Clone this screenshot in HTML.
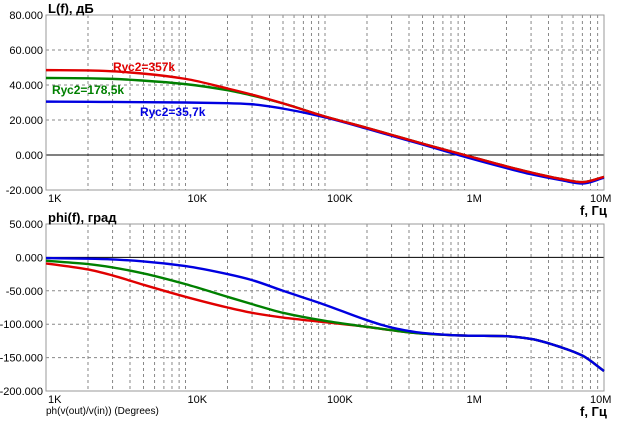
<!DOCTYPE html>
<html><head><meta charset="utf-8"><style>
body{margin:0;background:#fff;}
svg{display:block;font-family:"Liberation Sans",sans-serif;}
</style></head><body>
<svg id="c" width="618" height="422"></svg>
<script>
const freqs=[1e3,2e3,3e3,5e3,1e4,2e4,3e4,5e4,1e5,2e5,3e5,5e5,1e6,2e6,3e6,5e6,7e6,1e7];
const magRed=[48.5,48.3,47.8,46.5,43.5,38,34.5,29.5,22,15.5,11.5,6.5,0,-6.5,-10,-13.8,-15.5,-12.5];
const magGreen=[44,43.8,43.5,42.5,40.5,37,34,29.5,22,15.5,11.5,6.5,0,-6.5,-10,-13.8,-15.5,-12.5];
const magBlue=[30.5,30.4,30.3,30.2,30,29.6,29,26.5,21.5,15,11,6,-1,-7.5,-11,-14.5,-16.3,-13];
const phRed=[-9,-18,-27,-41,-59,-75,-83,-90,-97,-104,-109,-114,-117,-118,-122,-135,-147,-170];
const phGreen=[-5,-10,-15,-24,-40,-59,-70,-83,-95,-104,-109,-114,-117,-118,-122,-135,-147,-170];
const phBlue=[-1,-2,-3,-6,-13,-25,-34,-50,-71,-94,-105,-113,-117,-118,-122,-135,-147,-170];
const magTicks=[80,60,40,20,0,-20];
const phTicks=[50,0,-50,-100,-150,-200];
const xTickLabels=["1K","10K","100K","1M","10M"];
const NS="http://www.w3.org/2000/svg";
const svg=document.getElementById('c');
const X0=46,X1=604;
function xs(f){return X0+(Math.log10(f)-3)/4*(X1-X0);}
function el(t,a,p){const e=document.createElementNS(NS,t);for(const k in a)e.setAttribute(k,a[k]);(p||svg).appendChild(e);return e;}
function path(pts){
  const n=pts.length,d=[],m=[];
  for(let i=0;i<n-1;i++)d.push((pts[i+1][1]-pts[i][1])/(pts[i+1][0]-pts[i][0]));
  m[0]=d[0];m[n-1]=d[n-2];
  for(let i=1;i<n-1;i++){if(d[i-1]*d[i]<=0)m[i]=0;else{const h0=pts[i][0]-pts[i-1][0],h1=pts[i+1][0]-pts[i][0];const w1=2*h1+h0,w2=h1+2*h0;m[i]=(w1+w2)/(w1/d[i-1]+w2/d[i]);}}
  let s="M"+pts[0][0]+","+pts[0][1];
  for(let i=0;i<n-1;i++){const h=(pts[i+1][0]-pts[i][0])/3;s+=" C"+(pts[i][0]+h)+","+(pts[i][1]+m[i]*h)+" "+(pts[i+1][0]-h)+","+(pts[i+1][1]-m[i+1]*h)+" "+pts[i+1][0]+","+pts[i+1][1];}
  return s;}
function panel(name,top,bot,vmax,vmin,ticks,series,title){
  const ys=v=>top+(vmax-v)/(vmax-vmin)*(bot-top);
  const g=el('g',{});
  
  
  for(let d=0;d<4;d++)for(let m=2;m<=9;m++){const x=xs(Math.pow(10,3+d)*m);const l=el('line',{x1:x,x2:x,y1:top,y2:bot,stroke:'#888','stroke-dasharray':'3,3','stroke-width':1},g);}
  for(let d=1;d<4;d++){const x=xs(Math.pow(10,3+d));el('line',{x1:x,x2:x,y1:top,y2:bot,stroke:'#888','stroke-dasharray':'3,3'},g);}
  ticks.forEach(t=>{const y=ys(t);const l=el('line',{x1:X0,x2:X1,y1:y,y2:y,stroke:t===0?'#000':'#888','stroke-dasharray':t===0?'':'3,3'},g);
    const tx=el('text',{x:X0-3,y:y+4,'text-anchor':'end','font-size':11,fill:'#000'},g);tx.textContent=t.toFixed(3);});
  el('rect',{x:X0,y:top,width:X1-X0,height:bot-top,fill:'none',stroke:'#999'},g);
  xTickLabels.forEach((s,i)=>{const t=el('text',{x:X0+i*(X1-X0)/4+(i==4?-14:2),y:bot+12,'font-size':11},g);t.textContent=s;});
  const tt=el('text',{x:X0+2,y:top-2,'font-size':13,'font-weight':'bold'},g);tt.textContent=title;
  const fl=el('text',{x:580,y:bot+25,'font-size':13,'font-weight':'bold'},g);fl.textContent="f, Гц";
  series.forEach(s=>{const p=el('path',{d:path(freqs.map((f,i)=>[xs(f),ys(s[0][i])])),fill:'none',stroke:s[1],'stroke-width':2.4},g);});
}
panel('magnitude-panel',15,190,80,-20,magTicks,[[magGreen,'#008000','mag-green'],[magBlue,'#0000e0','mag-blue'],[magRed,'#e00000','mag-red']],"L(f), дБ");
panel('phase-panel',224,391,50,-200,phTicks,[[phRed,'#e00000','phase-red'],[phGreen,'#008000','phase-green'],[phBlue,'#0000e0','phase-blue']],"phi(f), град");
[["Rус2=357k",113,71,'#e00000'],["Rус2=178,5k",52,94,'#008000'],["Rус2=35,7k",140,116,'#0000e0']].forEach(a=>{const t=el('text',{x:a[1],y:a[2],'font-size':12,'font-weight':'bold',fill:a[3]});t.textContent=a[0];});
const ft=el('text',{x:46,y:414,'font-size':10});ft.textContent="ph(v(out)/v(in)) (Degrees)";


</script>
</body></html>
